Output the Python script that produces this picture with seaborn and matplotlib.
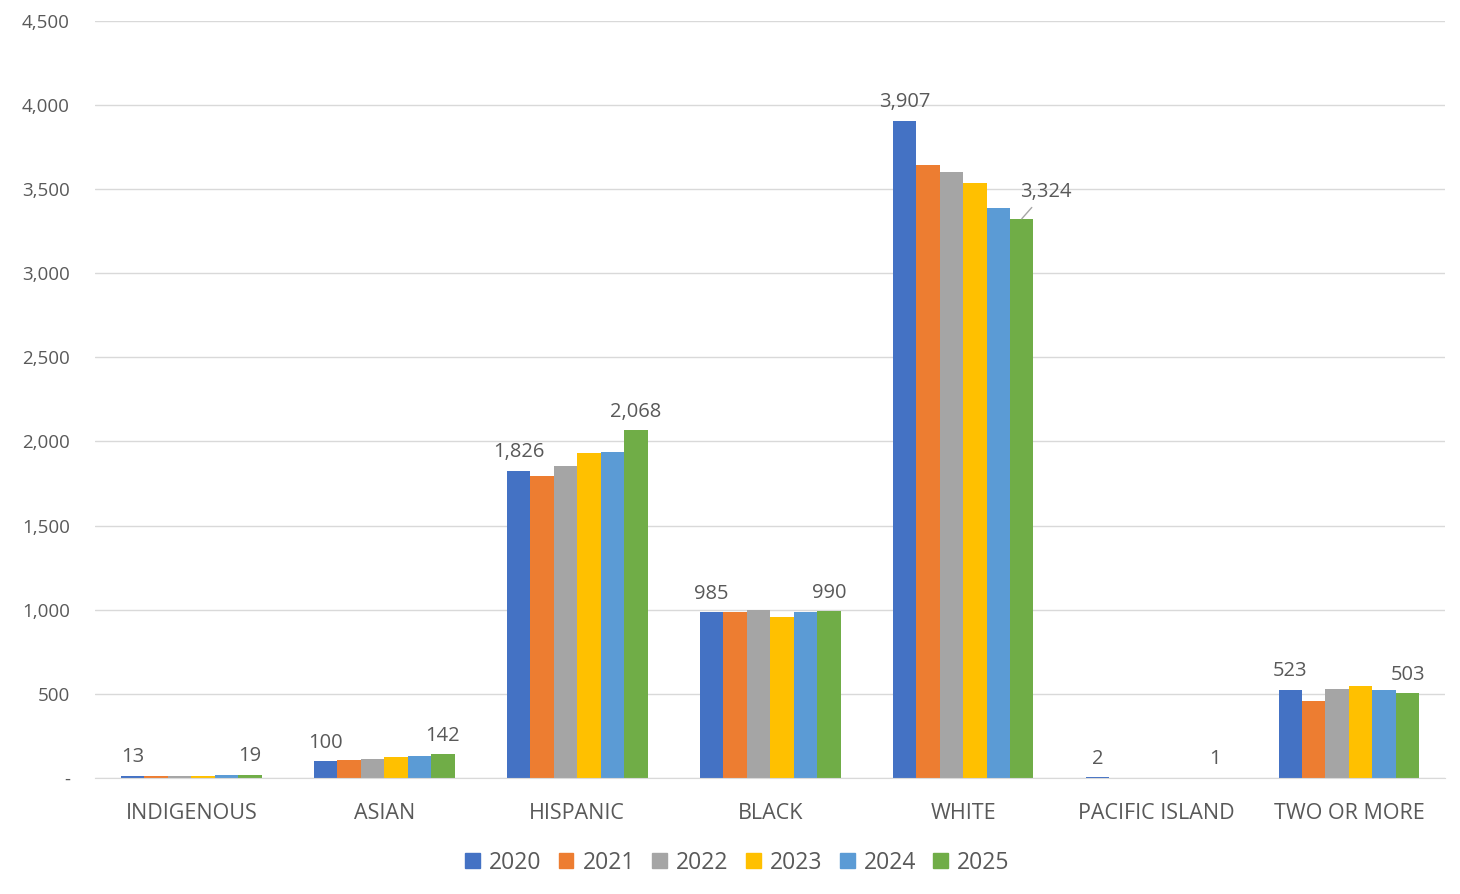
import pandas as pd
import seaborn as sns
import matplotlib
matplotlib.use('Agg')
import matplotlib.pyplot as plt
from matplotlib.ticker import FuncFormatter, MultipleLocator

groups = ['INDIGENOUS', 'ASIAN', 'HISPANIC', 'BLACK', 'WHITE', 'PACIFIC ISLAND', 'TWO OR MORE']
years = ['2020', '2021', '2022', '2023', '2024', '2025']
colors = ['#4472C4', '#ED7D31', '#A5A5A5', '#FFC000', '#5B9BD5', '#70AD47']

v2020 = [13, 100, 1826, 985, 3907, 2, 523]
v2021 = [10, 107, 1792, 983, 3643, 1, 458]
v2022 = [8, 112, 1856, 997, 3600, 1, 529]
v2023 = [12, 126, 1931, 955, 3534, 1, 547]
v2024 = [15, 132, 1939, 987, 3390, 1, 523]
v2025 = [19, 142, 2068, 990, 3324, 1, 503]

rows = []
for yr, vals in zip(years, [v2020, v2021, v2022, v2023, v2024, v2025]):
    for g, v in zip(groups, vals):
        rows.append({'group': g, 'year': yr, 'count': v})
df = pd.DataFrame(rows)

sns.set_style('white')
plt.rcParams['font.family'] = ['Open Sans', 'DejaVu Sans']
txt = '#595959'

fig = plt.figure(figsize=(14.6, 8.94), dpi=100)
ax = fig.add_axes([0.065, 0.13, 0.925, 0.8465])

sns.barplot(data=df, x='group', y='count', hue='year', palette=colors,
            width=0.73, ax=ax, legend=False, saturation=1, linewidth=0)

ax.set_ylim(0, 4500)
ax.yaxis.set_major_locator(MultipleLocator(500))
ax.yaxis.set_major_formatter(FuncFormatter(lambda v, p: '-' if v == 0 else f'{v:,.0f}'))
ax.grid(axis='y', color='#D9D9D9', linewidth=1)
ax.set_axisbelow(True)
for s in ['left', 'right', 'top']:
    ax.spines[s].set_visible(False)
ax.spines['bottom'].set_color('#D9D9D9')
ax.set_xlim(-0.5, len(groups) - 0.5)
ax.set_xlabel('')
ax.set_ylabel('')
ax.tick_params(axis='y', length=0, pad=18, labelsize=13.5, labelcolor=txt)
ax.tick_params(axis='x', length=0, pad=18, labelsize=15.5, labelcolor=txt)

# data labels on first and last year
for ci in [0, 5]:
    for gi, bar in enumerate(ax.containers[ci]):
        h = bar.get_height()
        x = bar.get_x() + bar.get_width() / 2
        label = f'{h:,.0f}'
        if ci == 5 and groups[gi] == 'WHITE':
            ax.annotate(label, (x, h), xytext=(17, 12), textcoords='offset points',
                        ha='center', va='bottom', fontsize=14.5, color=txt,
                        arrowprops=dict(arrowstyle='-', color='#A6A6A6', lw=1,
                                        shrinkA=2, shrinkB=0))
        else:
            ax.annotate(label, (x, h), xytext=(0, 6), textcoords='offset points',
                        ha='center', va='bottom', fontsize=14.5, color=txt)

handles = [plt.Rectangle((0, 0), 1, 1, color=c) for c in colors]
fig.legend(handles, years, loc='center', bbox_to_anchor=(0.505, 0.035), ncol=6,
           frameon=False, fontsize=16.5, handlelength=0.65, handleheight=0.65,
           handletextpad=0.4, columnspacing=0.75, labelcolor=txt)

fig.savefig('out.png', dpi=100)
